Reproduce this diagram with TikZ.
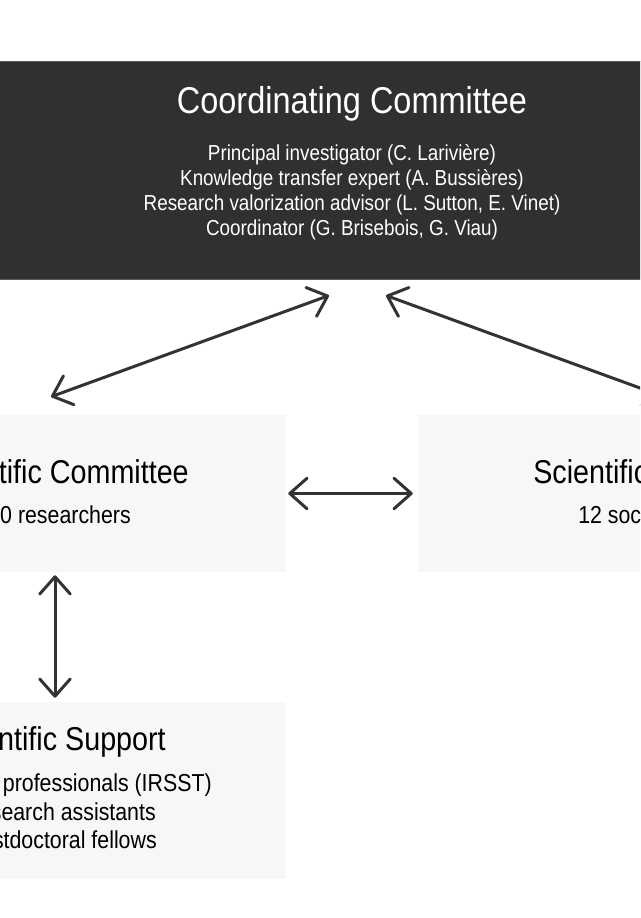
\documentclass[tikz,border=0pt]{standalone}
\usepackage{fontspec}
\setmainfont{Liberation Sans}[FakeStretch=0.87]
\usetikzlibrary{arrows.meta}
\definecolor{darkbox}{HTML}{303030}
\definecolor{darkedge}{HTML}{5A5A5A}
\definecolor{lightbox}{HTML}{F7F7F7}
\definecolor{arrowgray}{HTML}{333333}

\begin{document}
\begin{tikzpicture}[x=0.75pt,y=-0.75pt]
%styles
\tikzstyle{darkBox}=[rectangle, fill=darkbox, draw=darkedge, line width=0.75pt, inner sep=0pt]
\tikzstyle{lightBox}=[rectangle, fill=lightbox, inner sep=0pt]
\tikzstyle{titleW}=[text=white, font=\fontsize{28}{33}\selectfont, inner sep=0pt, anchor=base]
\tikzstyle{lineW}=[text=white, font=\fontsize{16.25}{18.75}\selectfont, inner sep=0pt, anchor=base]
\tikzstyle{titleB}=[text=black, font=\fontsize{24.75}{29}\selectfont, inner sep=0pt]
\tikzstyle{lineB}=[text=black, font=\fontsize{18.4}{22}\selectfont, inner sep=0pt]
\tikzstyle{link}=[{Straight Barb[length=13pt,width=23pt,round]}-{Straight Barb[length=13pt,width=23pt,round]}, line width=2.25pt, draw=arrowgray]
%frame
\useasboundingbox (0,0) rectangle (640,918);
\clip (0,0) rectangle (640,918);
%boxes
\node[darkBox, minimum width=588pt, minimum height=163.5pt] (coord) at (352,170) {};
\node[lightBox, minimum width=340.5pt, minimum height=117.75pt] (sci) at (59,493.5) {};
\node[lightBox, minimum width=340.5pt, minimum height=117.75pt] (partners) at (645,493.5) {};
\node[lightBox, minimum width=340.5pt, minimum height=132.75pt] (support) at (59,790.5) {};
%text
\node[titleW] (coordT) at (352,113) {Coordinating Committee};
\node[lineW] (coordL1) at (352,160) {Principal investigator (C. Larivière)};
\node[lineW] (coordL2) at (352,185) {Knowledge transfer expert (A. Bussières)};
\node[lineW] (coordL3) at (352,210) {Research valorization advisor (L. Sutton, E. Vinet)};
\node[lineW] (coordL4) at (352,235) {Coordinator (G. Brisebois, G. Viau)};

\node[titleB, anchor=base east] (sciT) at (189,483) {tific Committee};
\node[lineB, anchor=base east] (sciL) at (131,523) {0 researchers};

\node[titleB, anchor=base west] (partnersT) at (533,483) {Scientific};
\node[lineB, anchor=base west] (partnersL) at (578,523) {12 soc};

\node[titleB, anchor=base east] (supportT) at (166,750) {ntific Support};
\node[lineB, anchor=base east] (supportL1) at (212,791) {professionals (IRSST)};
\node[lineB, anchor=base east] (supportL2) at (156,820) {search assistants};
\node[lineB, anchor=base east] (supportL3) at (157,848) {stdoctoral fellows};
%arrows
\draw[link] ([shift={(-8,-18)}]sci.north) -- ([shift={(-23,16)}]coord.south);
\draw[link] ([shift={(34,16)}]coord.south) -- ([shift={(19,-18)}]partners.north);
\draw[link] ([shift={(2,0)}]sci.east) -- ([shift={(-5,0)}]partners.west);
\draw[link] ([shift={(-4,3)}]sci.south) -- ([shift={(-4,-4)}]support.north);
\end{tikzpicture}
\end{document}
